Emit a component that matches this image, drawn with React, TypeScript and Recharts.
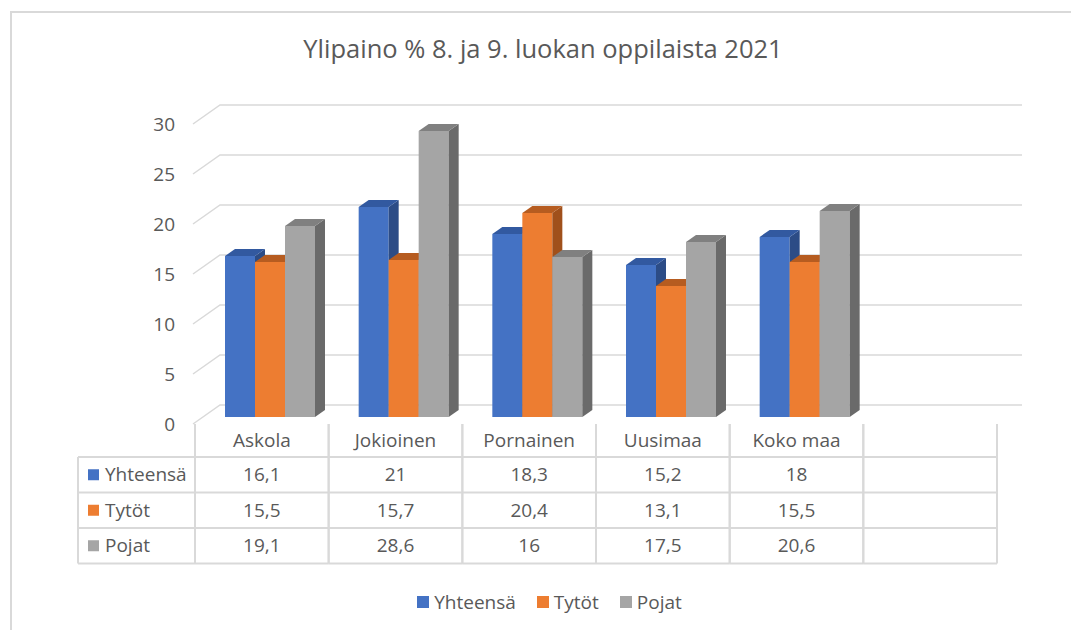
import React from 'react';
import { BarChart, Bar, XAxis, YAxis, CartesianGrid, Legend } from 'recharts';

// ---- data ----
const categories = ['Askola', 'Jokioinen', 'Pornainen', 'Uusimaa', 'Koko maa', ''];
const yhteensa: (number | null)[] = [16.1, 21, 18.3, 15.2, 18, null];
const tytot: (number | null)[] = [15.5, 15.7, 20.4, 13.1, 15.5, null];
const pojat: (number | null)[] = [19.1, 28.6, 16, 17.5, 20.6, null];
const seriesNames = ['Yhteensä', 'Tytöt', 'Pojat'];
const yTicks = [0, 5, 10, 15, 20, 25, 30];
const title = 'Ylipaino % 8. ja 9. luokan oppilaista 2021';

// ---- layout / style ----
const W = 1071;
const H = 630;
const FONT = '"Open Sans", "Noto Sans", sans-serif';
const TEXT = '#595959';
const LINE = '#D9D9D9';
const MARGIN = { top: 124, right: 74, bottom: 0, left: 135 };
const Y_AXIS_W = 60;
const X_AXIS_H = 206;
const PLOT_W = W - MARGIN.left - Y_AXIS_W - MARGIN.right;
const BAND = PLOT_W / categories.length;
const WALL_DX = 25;
const WALL_DY = 19;
const BAR_DX = 10;
const BAR_DY = 7;
const BAR_SHIFT_X = 8;
const BAR_SHIFT_Y = 7;
const NAME_ROW_H = 33;
const ROW_H = 35.5;
const HEADER_W = 117;
const FS = 19;

const seriesColors = [
  { front: '#4472C4', top: '#3259A0', side: '#2C4C86' },
  { front: '#ED7D31', top: '#B65C20', side: '#A0501B' },
  { front: '#A5A5A5', top: '#808080', side: '#6A6A6A' },
];
const seriesValues = [yhteensa, tytot, pojat];

const data = categories.map((name, i) => ({
  name,
  s0: yhteensa[i],
  s1: tytot[i],
  s2: pojat[i],
}));

const fmt = (v: number | null) => (v == null ? '' : String(v).replace('.', ','));

const make3D = (c: { front: string; top: string; side: string }) => (props: any) => {
  const { x, y, width, height } = props;
  if (!width || !height || height <= 0 || isNaN(y)) return <g />;
  const x0 = x + BAR_SHIFT_X;
  const y0 = y - BAR_SHIFT_Y;
  const x1 = x0 + width;
  const y1 = y0 + height;
  return (
    <g>
      <rect x={x0} y={y0} width={width} height={height} fill={c.front} />
      <path
        d={`M${x1},${y0} L${x1 + BAR_DX},${y0 - BAR_DY} L${x1 + BAR_DX},${y1 - BAR_DY} L${x1},${y1} Z`}
        fill={c.side}
      />
      <path
        d={`M${x0},${y0} L${x0 + BAR_DX},${y0 - BAR_DY} L${x1 + BAR_DX},${y0 - BAR_DY} L${x1},${y0} Z`}
        fill={c.top}
      />
    </g>
  );
};

const wallLine = (p: any) => {
  const { x1, y1, x2 } = p;
  return (
    <path
      key={`wl-${y1}`}
      d={`M${x1 - 2},${y1} L${x1 + WALL_DX},${y1 - WALL_DY} L${x2 + WALL_DX},${y1 - WALL_DY}`}
      stroke={LINE}
      strokeWidth={1.5}
      fill="none"
    />
  );
};

const TableTick = (props: any) => {
  const { x, y, index } = props;
  const left = x - BAND / 2;
  const right = x + BAND / 2;
  const rowTops = [y + NAME_ROW_H, y + NAME_ROW_H + ROW_H, y + NAME_ROW_H + 2 * ROW_H];
  const bottom = y + NAME_ROW_H + 3 * ROW_H;
  const name = categories[index] ?? '';
  const textProps = {
    fontFamily: FONT,
    fontSize: FS,
    fill: TEXT,
    textAnchor: 'middle' as const,
    dy: '0.35em',
  };
  return (
    <g>
      <line x1={left} y1={y} x2={left} y2={bottom} stroke={LINE} strokeWidth={2} />
      <line x1={right} y1={y} x2={right} y2={bottom} stroke={LINE} strokeWidth={2} />
      {[...rowTops, bottom].map((ry, k) => (
        <line key={k} x1={left} y1={ry} x2={right} y2={ry} stroke={LINE} strokeWidth={2} />
      ))}
      <text x={x} y={y + NAME_ROW_H / 2} {...textProps}>
        {name}
      </text>
      {seriesValues.map((vals, s) => (
        <text key={s} x={x} y={rowTops[s] + ROW_H / 2} {...textProps}>
          {fmt(vals[index])}
        </text>
      ))}
      {index === 0 && (
        <g>
          <line x1={left - HEADER_W} y1={rowTops[0]} x2={left - HEADER_W} y2={bottom} stroke={LINE} strokeWidth={2} />
          {[...rowTops, bottom].map((ry, k) => (
            <line key={`h${k}`} x1={left - HEADER_W} y1={ry} x2={left} y2={ry} stroke={LINE} strokeWidth={2} />
          ))}
          {seriesNames.map((n, s) => (
            <g key={`n${s}`}>
              <rect
                x={left - HEADER_W + 10}
                y={rowTops[s] + ROW_H / 2 - 5.5}
                width={11}
                height={11}
                fill={seriesColors[s].front}
              />
              <text
                x={left - HEADER_W + 27}
                y={rowTops[s] + ROW_H / 2}
                dy="0.35em"
                fontFamily={FONT}
                fontSize={FS}
                fill={TEXT}
              >
                {n}
              </text>
            </g>
          ))}
        </g>
      )}
    </g>
  );
};

const LegendContent = () => (
  <div
    style={{
      display: 'flex',
      justifyContent: 'center',
      alignItems: 'center',
      gap: 21,
      fontFamily: FONT,
      fontSize: FS,
      color: TEXT,
      height: 26,
      lineHeight: '26px',
    }}
  >
    {seriesNames.map((n, i) => (
      <span key={i} style={{ display: 'flex', alignItems: 'center' }}>
        <span
          style={{
            display: 'inline-block',
            width: 12,
            height: 12,
            background: seriesColors[i].front,
            marginRight: 5,
          }}
        />
        {n}
      </span>
    ))}
  </div>
);

export default function App() {
  return (
    <div
      style={{
        position: 'absolute',
        left: 0,
        top: 0,
        width: W,
        height: H,
        background: '#fff',
        overflow: 'hidden',
      }}
    >
      <div
        style={{
          position: 'absolute',
          left: 10,
          top: 11,
          width: W + 40,
          height: H + 40,
          border: `2px solid ${LINE}`,
          boxSizing: 'border-box',
        }}
      />
      <div
        style={{
          position: 'absolute',
          left: 0,
          top: 32,
          width: 1086,
          textAlign: 'center',
          fontFamily: FONT,
          fontSize: 25.5,
          lineHeight: '32px',
          color: TEXT,
        }}
      >
        {title}
      </div>
      <div style={{ position: 'absolute', left: 0, top: 0 }}>
        <BarChart
          width={W}
          height={H}
          data={data}
          margin={MARGIN}
          barCategoryGap={22}
          barGap={0}
        >
          <CartesianGrid vertical={false} horizontal={wallLine as any} />
          <XAxis
            dataKey="name"
            height={X_AXIS_H}
            axisLine={false}
            tickLine={false}
            tickSize={0}
            tickMargin={0}
            interval={0}
            tick={<TableTick />}
          />
          <YAxis
            width={Y_AXIS_W}
            domain={[0, 30]}
            ticks={yTicks}
            axisLine={false}
            tickLine={false}
            tickSize={0}
            tickMargin={20}
            tick={{ fontFamily: FONT, fontSize: FS, fill: TEXT }}
          />
          <Legend
            layout="horizontal"
            verticalAlign="middle"
            align="center"
            wrapperStyle={{ top: 589, left: 0, width: 1099 }}
            content={<LegendContent />}
          />
          {seriesValues.map((_, s) => (
            <Bar
              key={s}
              dataKey={`s${s}`}
              name={seriesNames[s]}
              fill={seriesColors[s].front}
              isAnimationActive={false}
              shape={make3D(seriesColors[s])}
            />
          ))}
        </BarChart>
      </div>
    </div>
  );
}
